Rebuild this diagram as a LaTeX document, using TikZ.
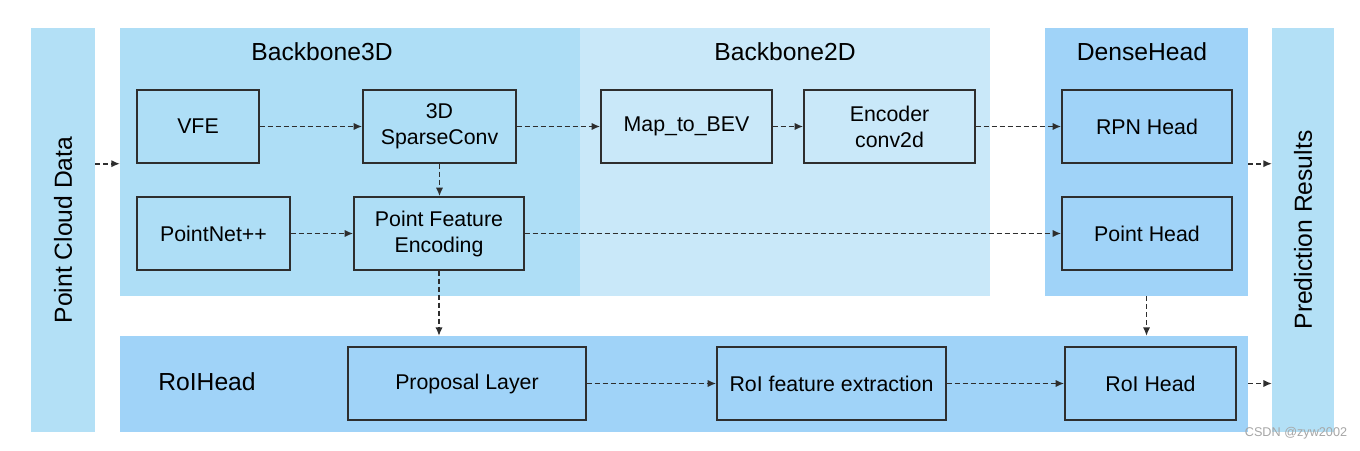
\documentclass[tikz,border=0pt]{standalone}
\usepackage{fontspec}
\setmainfont{Liberation Sans}
\usepackage{xcolor}
\usepackage{tikz}
\usetikzlibrary{arrows.meta,calc,positioning}
\definecolor{bbthree}{HTML}{AEDEF6}
\definecolor{bbtwo}{HTML}{C9E8F9}
\definecolor{headblue}{HTML}{A0D3F8}
\definecolor{sidebar}{HTML}{B3E0F6}
\definecolor{linegray}{HTML}{2E2E2E}

\begin{document}
\begin{tikzpicture}[x=0.75pt,y=-0.75pt,
  region/.style={draw=none,fill=#1,inner sep=0pt,outer sep=0pt},
  region/.default=bbthree,
  title/.style={font=\fontsize{18.5}{22}\selectfont,text=black},
  blk/.style={draw=linegray,line width=1.1pt,align=center,minimum height=54.75pt,
              inner sep=2pt,font=\fontsize{16}{19.5}\selectfont,minimum width=#1},
  blk/.default=128.25pt,
  flow/.style={-{Latex[length=6.5pt,width=5.5pt]},linegray,line width=1.3pt,
               dash pattern=on 3.6pt off 2.4pt}]
  \useasboundingbox[fill=white] (0,0) rectangle (1360,450);
  % stages
  \node[region=sidebar,minimum width=48pt,minimum height=303pt] (pcd) at (63,230) {};
  \node[region=bbthree,minimum width=345pt,minimum height=201pt] (bb3d) at (350,162) {};
  \node[region=bbtwo,minimum width=307.5pt,minimum height=201pt] (bb2d) at (785,162) {};
  \node[region=headblue,minimum width=152.25pt,minimum height=201pt] (dense) at (1146.5,162) {};
  \node[region=sidebar,minimum width=46.5pt,minimum height=303pt] (pred) at (1303,230) {};
  \node[region=headblue,minimum width=846pt,minimum height=72pt] (roi) at (684,384) {};
  \node[title,rotate=90] at (pcd) {Point Cloud Data};
  \node[title,rotate=90] at (pred) {Prediction Results};
  \node[title] at (322,52) {Backbone3D};
  \node[title] at (785,52) {Backbone2D};
  \node[title] at (1142,52) {DenseHead};
  \node[title] at (207,382) {RoIHead};
  % modules
  \node[blk=91.5pt] (vfe) at (198,126.5) {VFE};
  \node[blk=114.75pt] (sparse) at (439.5,126.5) {3D\\SparseConv};
  \node[blk=114.75pt] (pnet) at (213.5,233.5) {PointNet++};
  \node[blk=127.5pt] (pfe) at (439,233.5) {Point Feature\\Encoding};
  \node[blk] (bev) at (686.5,126.5) {Map\_to\_BEV};
  \node[blk] (enc) at (889.5,126.5) {Encoder\\conv2d};
  \node[blk=127.5pt] (rpn) at (1147,126.5) {RPN Head};
  \node[blk=127.5pt] (phead) at (1147,233.5) {Point Head};
  \node[blk=178.5pt] (prop) at (467,383.5) {Proposal Layer};
  \node[blk=171.75pt] (roife) at (831.5,383.5) {RoI feature extraction};
  \node[blk] (roih) at (1150.5,383.5) {RoI Head};
  % connections
  \foreach \a/\b in {vfe/sparse,sparse/bev,bev/enc,enc/rpn,pnet/pfe,pfe/phead,prop/roife,roife/roih}
    \draw[flow] (\a) -- (\b);
  \draw[flow] (sparse.south) -- (sparse.south |- pfe.north);
  \draw[flow] (pfe.south) -- (pfe.south |- roi.north);
  \draw[flow] (dense.south) -- (dense.south |- roi.north);
  \draw[flow] (pcd.east |- vfe.south) -- (bb3d.west |- vfe.south);
  \draw[flow] (dense.east |- rpn.south) -- (pred.west |- rpn.south);
  \draw[flow] (roi.east |- roih) -- (pred.west |- roih);
  \node[font=\fontsize{9.5}{11}\selectfont,text=gray!70] (mark) at (1296,433) {CSDN @zyw2002};
\end{tikzpicture}
\end{document}
